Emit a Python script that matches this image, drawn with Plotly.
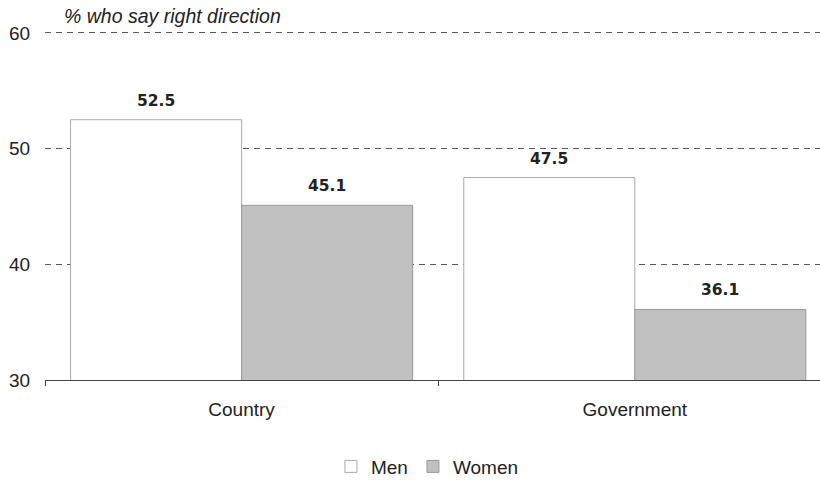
import plotly.graph_objects as go

categories = ["Country", "Government"]
men = [52.5, 47.5]
women = [45.1, 36.1]
title_text = "% who say right direction"

FONT = "Liberation Sans"
LABEL_FONT = dict(family="DejaVu Sans", size=15.5, color="#222222", weight="bold")

W, H = 820, 480
ML, MR, MT, MB = 45, 0, 31, 100
XR = [-0.5, 1.471]
YR = [30, 60.17]
BARGAP = 0.13
px_per_unit = (W - ML - MR) / (XR[1] - XR[0])
bar_half = (1 - BARGAP) / 4 * px_per_unit

fig = go.Figure()
fig.add_trace(go.Bar(
    name="Men", x=categories, y=men,
    marker=dict(color="#ffffff", line=dict(color="#aaaaaa", width=1)),
))
fig.add_trace(go.Bar(
    name="Women", x=categories, y=women,
    marker=dict(color="#c0c0c0", line=dict(color="#999999", width=1)),
))

annotations = []
for series, sign in ((men, -1), (women, 1)):
    for cat, v in zip(categories, series):
        annotations.append(dict(
            x=cat, y=v, xref="x", yref="y", text=f"{v:.1f}", showarrow=False,
            xanchor="center", yanchor="middle", xshift=sign * bar_half, yshift=19,
            font=LABEL_FONT,
        ))
annotations.append(dict(
    text=title_text, xref="paper", yref="paper", x=0.022, y=1.0,
    xanchor="left", yanchor="middle", showarrow=False, yshift=15,
    font=dict(family=FONT, size=19.5, color="#222222", style="italic"),
))

fig.update_layout(
    width=W, height=H,
    margin=dict(l=ML, r=MR, t=MT, b=MB, autoexpand=False),
    paper_bgcolor="white", plot_bgcolor="white",
    font=dict(family=FONT, size=19, color="#222222"),
    barmode="group", bargap=BARGAP, bargroupgap=0,
    showlegend=True,
    legend=dict(orientation="h", x=0.4935, xanchor="center", y=-0.248, yanchor="middle",
                font=dict(family=FONT, size=19, color="#222222"),
                itemwidth=30, tracegroupgap=0),
    xaxis=dict(range=XR, showline=True, linecolor="#444444", linewidth=1,
               ticks="outside", tickson="boundaries", ticklen=5, tickcolor="#444444",
               showgrid=False, zeroline=False, fixedrange=True, automargin=False,
               ticklabelstandoff=12, tickfont=dict(size=19)),
    yaxis=dict(range=YR, tickvals=[30, 40, 50, 60], showgrid=True,
               gridcolor="#555555", griddash="6px,5px", gridwidth=1,
               zeroline=False, showline=False, automargin=False,
               ticks="outside", ticklen=10, tickcolor="rgba(0,0,0,0)"),
    annotations=annotations,
)

fig.write_html("out.html", config={"displayModeBar": False},
               post_script="document.body.style.margin='0';")
